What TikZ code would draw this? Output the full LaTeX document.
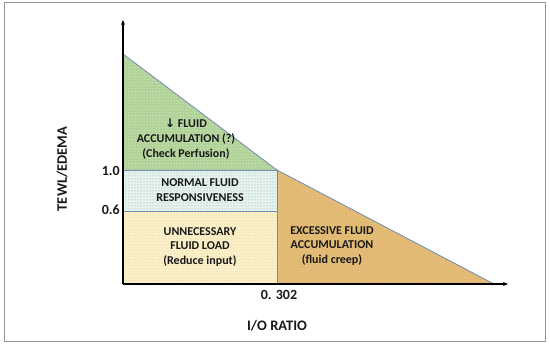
\documentclass[tikz,border=0pt]{standalone}
\usepackage{fontspec}
\setmainfont{Carlito}
\newfontfamily\symf{DejaVu Sans}
\usetikzlibrary{patterns,arrows.meta}
\definecolor{greenfill}{RGB}{176,210,150}
\definecolor{normfill}{RGB}{232,243,238}
\definecolor{normdot}{RGB}{110,170,150}
\definecolor{lowfill}{RGB}{252,240,200}
\definecolor{lowdot}{RGB}{215,195,140}
\definecolor{orfill}{RGB}{225,185,115}
\definecolor{ordot}{RGB}{240,210,150}
\definecolor{edge}{RGB}{110,140,180}
\definecolor{framec}{RGB}{150,150,150}
\tikzset{
  lbl/.style={font=\bfseries\fontsize{12}{14.6}\selectfont, align=center, text=black!90, inner sep=0pt},
  axlbl/.style={font=\bfseries\fontsize{14.5}{16}\selectfont, text=black!90, inner sep=0pt},
  ticklbl/.style={font=\bfseries\fontsize{14}{15}\selectfont, text=black!90, inner sep=0pt},
  regionedge/.style={draw=edge, line width=0.8pt},
  axis/.style={line width=1.4pt, -{Stealth[length=5pt,width=4pt]}}
}
\begin{document}
\begin{tikzpicture}[x=1pt,y=-1pt]
\useasboundingbox (0,0) rectangle (550,347);
\draw[framec, line width=1pt] (4,3) rectangle (545,342);
% coordinates
\coordinate (O) at (123,284);
\coordinate (T) at (123,54);
\coordinate (P) at (277,170);
\coordinate (Q) at (277,211);
\coordinate (B) at (277,284);
\coordinate (R) at (494,284);
\coordinate (A) at (123,170);
\coordinate (C) at (123,211);
\coordinate (YT) at (123,20);
\coordinate (XT) at (508,284);
% fills
\fill[greenfill] (T) -- (P) -- (A) -- cycle;
\fill[pattern=dots, pattern color=white] (T) -- (P) -- (A) -- cycle;
\fill[normfill] (A) rectangle (Q);
\fill[pattern=dots, pattern color=normdot] (A) rectangle (Q);
\fill[lowfill] (C) rectangle (B);
\fill[pattern=dots, pattern color=lowdot] (C) rectangle (B);
\fill[orfill] (P) -- (R) -- (B) -- cycle;
\fill[pattern=dots, pattern color=ordot] (P) -- (R) -- (B) -- cycle;
% edges
\draw[regionedge] (T) -- (P) -- (R);
\draw[regionedge] (A) -- (P) -- (B);
\draw[regionedge] (C) -- (Q);
% axes
\draw[axis] (O) -- (YT);
\draw[axis] (O) -- (XT);
% labels
\node[lbl] (g1) at (186,139) {{\symf\bfseries ↓} FLUID\\ACCUMULATION (?)\\(Check Perfusion)};
\node[lbl] (n1) at (200,190) {NORMAL FLUID\\RESPONSIVENESS};
\node[lbl] (u1) at (200,247) {UNNECESSARY\\FLUID LOAD\\(Reduce input)};
\node[lbl] (e1) at (332,246) {EXCESSIVE FLUID\\ACCUMULATION\\(fluid creep)};
\node[ticklbl, anchor=east] (t10) at (120,171) {1.0};
\node[ticklbl, anchor=east] (t06) at (120,210) {0.6};
\node[ticklbl] (t302) at (279,295) {0. 302};
\node[axlbl] (xl) at (277,326) {I/O RATIO};
\node[axlbl, rotate=90] (yl) at (62,169) {TEWL/EDEMA};
\end{tikzpicture}
\end{document}
